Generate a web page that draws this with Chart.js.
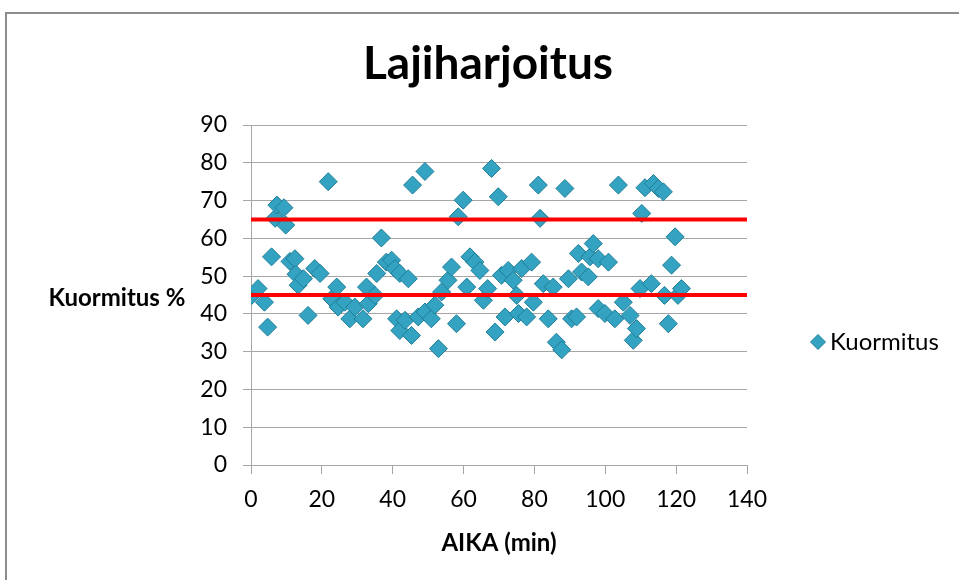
<!DOCTYPE html>
<html>
<head>
<meta charset="utf-8">
<title>Lajiharjoitus</title>
<script src="https://cdn.jsdelivr.net/npm/chart.js@4"></script>
<style>
  html, body { margin: 0; padding: 0; background: #fff; overflow: hidden; }
  #frame { position: absolute; left: 5px; top: 12px; width: 1000px; height: 700px; border: 2px solid #8c8c8c; }
  #myChart { position: absolute; left: 0; top: 0; }
</style>
</head>
<body>
<div id="frame"></div>
<canvas id="myChart" width="959" height="580"></canvas>
<script>
// Lajiharjoitus: kuormitus (%) ajan funktiona + raja-arvot
const aikaMin = [
  0.2, 2.0, 3.8, 4.7, 5.8, 6.8, 7.3, 9.3, 9.8, 11.0,
  12.4, 12.7, 13.3, 14.8, 16.1, 18.0, 19.5, 21.8, 22.8, 24.2,
  24.6, 26.5, 27.9, 29.3, 31.6, 32.6, 33.1, 35.0, 35.5, 36.8,
  38.2, 39.7, 40.6, 41.1, 42.0, 42.0, 43.5, 44.4, 45.3, 45.6,
  47.2, 49.1, 49.1, 50.9, 51.9, 52.9, 53.8, 55.6, 56.6, 58.0,
  58.5, 59.9, 60.9, 61.8, 63.2, 64.6, 65.6, 66.8, 67.9, 68.9,
  69.8, 70.7, 71.7, 72.6, 74.0, 75.0, 75.5, 76.4, 77.8, 79.2,
  79.7, 81.1, 81.6, 82.5, 83.9, 85.3, 86.2, 87.7, 88.6, 89.6,
  90.5, 91.9, 92.4, 93.3, 95.2, 95.7, 96.6, 98.0, 98.0, 99.9,
  100.9, 102.7, 103.7, 105.1, 107.0, 107.9, 108.8, 109.8, 110.3, 111.2,
  113.0, 113.6, 115.0, 116.4, 116.7, 117.8, 118.7, 119.7, 120.5, 121.5
];
const kuormitus = [
  44.9, 46.7, 43.1, 36.5, 55.1, 65.3, 68.8, 68.1, 63.5, 53.9,
  54.6, 50.5, 47.6, 49.3, 39.6, 52.0, 50.7, 75.0, 44.0, 47.1,
  41.8, 43.1, 38.7, 41.8, 38.7, 47.1, 42.7, 44.9, 50.7, 60.1,
  53.7, 54.2, 52.0, 38.7, 50.7, 35.6, 38.3, 49.3, 34.3, 74.1,
  39.2, 77.7, 40.5, 38.7, 42.3, 30.8, 45.8, 48.9, 52.4, 37.4,
  65.7, 70.1, 47.1, 55.1, 53.7, 51.5, 43.6, 46.7, 78.5, 35.2,
  71.0, 50.2, 39.2, 51.5, 48.9, 44.9, 40.1, 52.0, 39.2, 53.7,
  43.1, 74.1, 65.3, 48.0, 38.7, 47.1, 32.5, 30.5, 73.2, 49.3,
  38.7, 39.2, 56.0, 51.1, 49.8, 55.1, 58.6, 54.6, 41.4, 40.1,
  53.7, 38.7, 74.1, 43.1, 39.6, 33.0, 36.1, 46.7, 66.6, 73.4,
  48.0, 74.5, 73.2, 72.3, 44.9, 37.4, 52.9, 60.4, 44.9, 46.7
];
const ylaraja = 65;
const alaraja = 45;
const xRange = [0, 140];
const yRange = [0, 90];

const FONT = 'Lato, "Open Sans", sans-serif';
const GRID = '#a6a6a6';
const DIAMOND = '#34a2c1';
const DIAMOND_EDGE = '#1f7e98';

// title, horizontal y-axis title and the legend on the right
const extras = {
  id: 'extras',
  afterDraw(chart) {
    const ctx = chart.ctx;
    ctx.save();
    ctx.fillStyle = '#000';
    ctx.textBaseline = 'middle';
    ctx.textAlign = 'center';
    ctx.font = 'bold 46px ' + FONT;
    ctx.fillText('Lajiharjoitus', 488, 64);

    ctx.font = 'bold 24px ' + FONT;
    ctx.fillText('Kuormitus %', 117, 298);

    const lx = 818, ly = 342, r = 7.5;
    ctx.beginPath();
    ctx.moveTo(lx, ly - r);
    ctx.lineTo(lx + r, ly);
    ctx.lineTo(lx, ly + r);
    ctx.lineTo(lx - r, ly);
    ctx.closePath();
    ctx.fillStyle = DIAMOND;
    ctx.fill();
    ctx.strokeStyle = DIAMOND_EDGE;
    ctx.lineWidth = 1;
    ctx.stroke();

    ctx.fillStyle = '#000';
    ctx.textAlign = 'left';
    ctx.font = '24px ' + FONT;
    ctx.fillText('Kuormitus', 830, ly);
    ctx.restore();
  }
};

const points = aikaMin.map((x, i) => ({ x, y: kuormitus[i] }));
const limitLine = v => [{ x: xRange[0], y: v }, { x: xRange[1], y: v }];

new Chart(document.getElementById('myChart'), {
  type: 'scatter',
  data: {
    datasets: [
      {
        label: 'Yläraja',
        data: limitLine(ylaraja),
        showLine: true,
        borderColor: '#ff0000',
        borderWidth: 4,
        pointRadius: 0,
        order: 1
      },
      {
        label: 'Alaraja',
        data: limitLine(alaraja),
        showLine: true,
        borderColor: '#ff0000',
        borderWidth: 4,
        pointRadius: 0,
        order: 1
      },
      {
        label: 'Kuormitus',
        data: points,
        pointStyle: 'rectRot',
        pointRadius: 9,
        pointHoverRadius: 9,
        backgroundColor: DIAMOND,
        borderColor: DIAMOND_EDGE,
        borderWidth: 1,
        order: 2
      }
    ]
  },
  options: {
    responsive: false,
    animation: false,
    events: [],
    layout: { padding: { left: 0, right: 212, top: 125, bottom: 0 } },
    plugins: {
      legend: { display: false },
      tooltip: { enabled: false },
      title: { display: false }
    },
    scales: {
      x: {
        type: 'linear',
        min: xRange[0],
        max: xRange[1],
        afterFit(scale) { scale.height = 115; },
        ticks: { stepSize: 20, color: '#000', padding: 12, font: { family: FONT, size: 23 } },
        grid: { drawOnChartArea: false, color: GRID, tickLength: 9 },
        border: { color: GRID, width: 1 },
        title: {
          display: true,
          text: 'AIKA (min)',
          color: '#000',
          font: { family: FONT, size: 24, weight: 'bold' },
          padding: { top: 0, bottom: 22 }
        }
      },
      y: {
        min: yRange[0],
        max: yRange[1],
        afterFit(scale) { scale.width = 251; },
        ticks: { stepSize: 10, color: '#000', padding: 16, font: { family: FONT, size: 23 } },
        grid: { color: GRID, tickLength: 8 },
        border: { color: GRID, width: 1 }
      }
    }
  },
  plugins: [extras]
});
</script>
</body>
</html>
